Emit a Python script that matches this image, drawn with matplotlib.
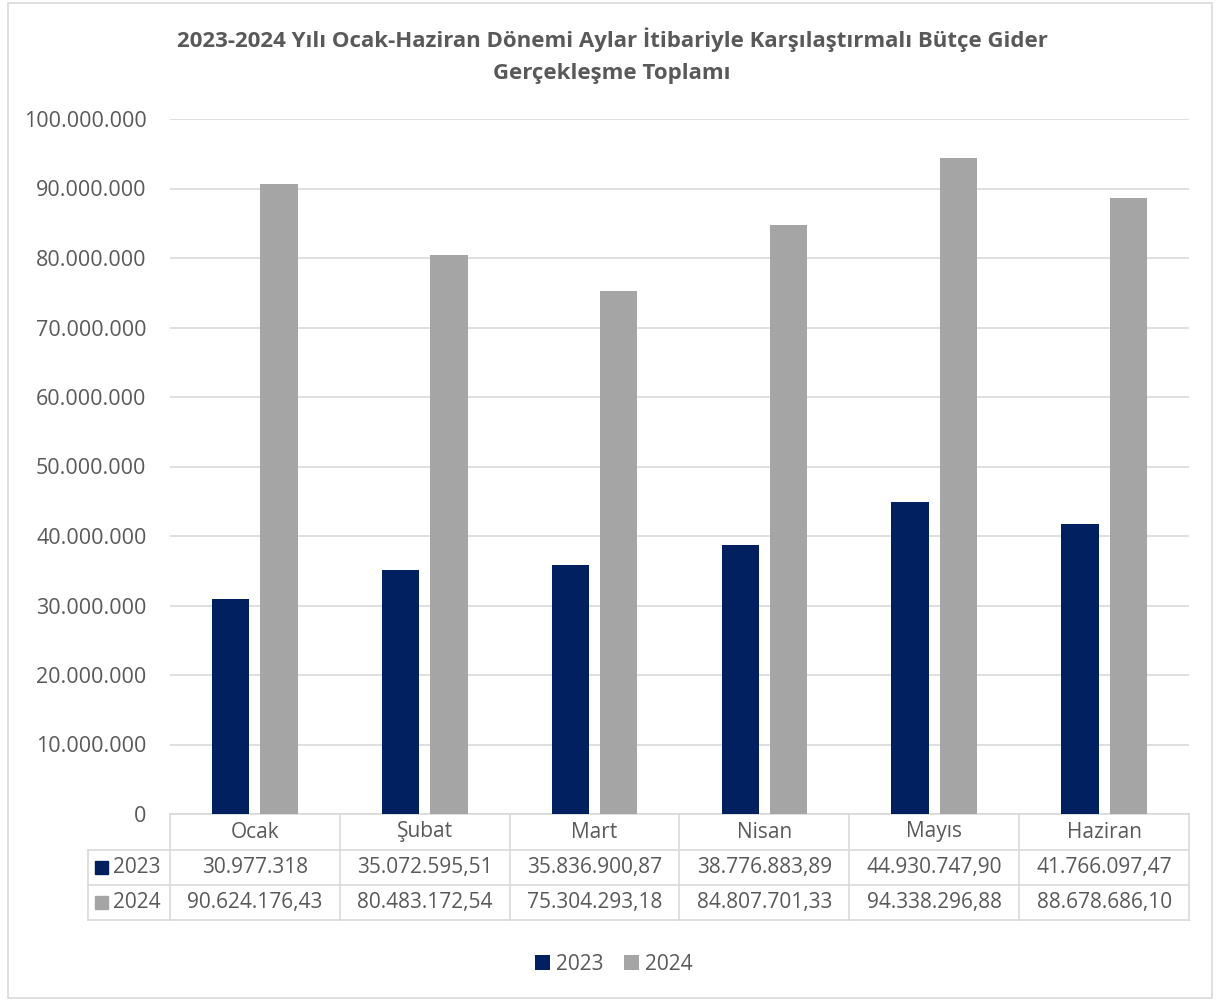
import matplotlib
matplotlib.use("Agg")
import matplotlib.pyplot as plt
from matplotlib.patches import Rectangle
from matplotlib.ticker import FuncFormatter
import numpy as np

plt.rcParams['font.family'] = ['Open Sans', 'DejaVu Sans']

months = ["Ocak", "Şubat", "Mart", "Nisan", "Mayıs", "Haziran"]
series_names = ["2023", "2024"]
values_2023 = [30977318.00, 35072595.51, 35836900.87, 38776883.89, 44930747.90, 41766097.47]
values_2024 = [90624176.43, 80483172.54, 75304293.18, 84807701.33, 94338296.88, 88678686.10]
table_2023 = ["30.977.318", "35.072.595,51", "35.836.900,87", "38.776.883,89", "44.930.747,90", "41.766.097,47"]
table_2024 = ["90.624.176,43", "80.483.172,54", "75.304.293,18", "84.807.701,33", "94.338.296,88", "88.678.686,10"]
colors = ["#002060", "#A5A5A5"]
title = "2023-2024 Yılı Ocak-Haziran Dönemi Aylar İtibariyle Karşılaştırmalı Bütçe Gider\nGerçekleşme Toplamı"

W, H = 1222, 1001
fig = plt.figure(figsize=(W / 100, H / 100), dpi=100)
fig.patches.append(Rectangle((8 / W, 3 / H), (1212 - 8) / W, (998 - 3) / H,
                             transform=fig.transFigure, fill=False,
                             edgecolor="#D9D9D9", linewidth=1.2))

left, right, top, bottom = 170, 1189, 119, 814
ax = fig.add_axes([left / W, 1 - bottom / H, (right - left) / W, (bottom - top) / H])

x = np.arange(len(months))
bw = 0.22
off = 0.142
ax.bar(x - off, values_2023, bw, color=colors[0], label=series_names[0], zorder=3)
ax.bar(x + off, values_2024, bw, color=colors[1], label=series_names[1], zorder=3)

fs = 15
ax.set_xlim(-0.5, len(months) - 0.5)
ax.set_ylim(0, 100_000_000)
ax.set_yticks(np.arange(0, 100_000_001, 10_000_000))
ax.yaxis.set_major_formatter(FuncFormatter(lambda v, p: f"{int(v):,}".replace(",", ".")))
ax.tick_params(axis='y', length=0, pad=17, labelsize=15.5, labelcolor="#595959")
ax.set_xticks([])
ax.grid(axis='y', color="#D9D9D9", linewidth=1.2, zorder=0)
for s in ax.spines.values():
    s.set_visible(False)

# data table
ah = bottom - top
r0 = 0.0
r1 = -36 / ah
r2 = -71 / ah
r3 = -106 / ah
trans = ax.get_xaxis_transform()
lc = "#D9D9D9"
lw = 1.2
xl = -0.5 - 82 / 170
xr = len(months) - 0.5
ax.plot([-0.5, xr], [r0, r0], color=lc, lw=lw, transform=trans, clip_on=False)
for r in (r1, r2, r3):
    ax.plot([xl, xr], [r, r], color=lc, lw=lw, transform=trans, clip_on=False)
ax.plot([xl, xl], [r1, r3], color=lc, lw=lw, transform=trans, clip_on=False)
for i in range(len(months) + 1):
    xv = i - 0.5
    ax.plot([xv, xv], [r0, r3], color=lc, lw=lw, transform=trans, clip_on=False)

tc = "#595959"
for i, m in enumerate(months):
    ax.text(i, (r0 + r1) / 2, m, ha='center', va='center', fontsize=fs, color=tc,
            transform=trans)
    ax.text(i, (r1 + r2) / 2, table_2023[i], ha='center', va='center', fontsize=fs,
            color=tc, transform=trans)
    ax.text(i, (r2 + r3) / 2, table_2024[i], ha='center', va='center', fontsize=fs,
            color=tc, transform=trans)

for k, (name, rr) in enumerate(zip(series_names, [(r1, r2), (r2, r3)])):
    yc = (rr[0] + rr[1]) / 2
    sq_w = 13 / 170
    sq_h = 13 / ah
    ax.add_patch(Rectangle((xl + 7 / 170, yc - sq_h / 2), sq_w, sq_h, transform=trans,
                           color=colors[k], clip_on=False))
    ax.text(xl + 25 / 170, yc, name, ha='left', va='center', fontsize=fs, color=tc,
            transform=trans)

fig.text(612 / W, 1 - 56 / H, title, ha='center', va='center', fontsize=16,
         fontweight='bold', color="#595959", linespacing=1.7)

leg = fig.legend(loc='center', bbox_to_anchor=(614 / W, 1 - 964 / H), ncol=2,
                 frameon=False, fontsize=fs, labelcolor="#595959",
                 handlelength=0.7, handleheight=0.7, handletextpad=0.3,
                 columnspacing=1.0)

fig.savefig("out.png", dpi=100)
